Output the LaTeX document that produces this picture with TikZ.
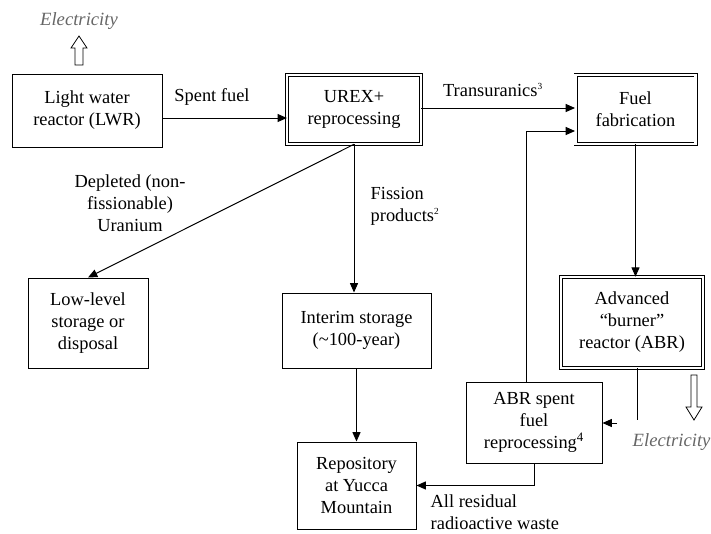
\documentclass[tikz,border=0pt]{standalone}
\usepackage{fontspec}
\setmainfont{Liberation Serif}
\usetikzlibrary{arrows.meta}

\tikzset{
  box/.style={draw, line width=0.75pt, align=center, inner sep=2pt,
    font=\fontsize{13.8}{16.5}\selectfont},
  dbox/.style={box, double, double distance=1.6pt, line width=0.7pt},
  flow/.style={line width=0.75pt, -{Triangle[length=7pt,width=6pt]}},
  lbl/.style={font=\fontsize{13.8}{16.5}\selectfont, align=center},
  elec/.style={font=\fontsize{14}{16}\selectfont\itshape, text=black!60},
  hollow/.style={draw, line width=0.6pt, fill=white}
}

\begin{document}
\begin{tikzpicture}[x=0.75pt,y=0.75pt,yscale=-1,xscale=1]
\useasboundingbox (0,0) rectangle (711,533);

%Shape: Rectangle [LWR]
\draw (87,110.5) node [box, minimum width=112.5pt, minimum height=54.75pt] (lwr) {Light water\\reactor (LWR)};
%Shape: Double Rectangle [UREX+]
\draw (354,109.5) node [dbox, minimum width=100pt, minimum height=51.5pt] (urex) {UREX+\\reprocessing};
%Shape: Double Rectangle [fuel fabrication]
\draw (635.5,109.5) node [dbox, minimum width=90pt, minimum height=51.5pt] (fab) {Fuel\\fabrication};
%Shape: Double Rectangle [ABR]
\draw (632,322.5) node [dbox, minimum width=106pt, minimum height=68pt] (abr) {Advanced\\``burner''\\reactor (ABR)};
%Shape: Rectangle [low-level]
\draw (88,323) node [box, minimum width=90pt, minimum height=67.5pt] (low) {Low-level\\storage or\\disposal};
%Shape: Rectangle [interim]
\draw (356.5,330.5) node [box, minimum width=111.75pt, minimum height=56.25pt] (interim) {Interim storage\\(\textasciitilde100-year)};
%Shape: Rectangle [repository]
\draw (356.5,485.5) node [box, minimum width=89.25pt, minimum height=65.25pt] (repo) {Repository\\at Yucca\\Mountain};
%Shape: Rectangle [ABR spent fuel]
\draw (534,422.5) node [box, minimum width=102pt, minimum height=60.75pt] (abrspent) {ABR spent\\fuel\\reprocessing\textsuperscript{4}};

%Straight Lines [spent fuel]
\draw [flow] (lwr.east |- 0,118) -- (urex.west |- 0,118) ;
%Straight Lines [transuranics]
\draw [flow] (urex.east |- 0,108) -- (fab.west |- 0,108) ;
%Straight Lines [depleted uranium]
\draw [flow] (urex.south) -- (low.north) ;
%Straight Lines [fission products]
\draw [flow] (urex.south) -- (urex.south |- interim.north) ;
%Straight Lines [interim to repository]
\draw [flow] (interim.south) -- (repo.north) ;
%Straight Lines [fabrication to ABR]
\draw [flow] (fab.south) -- (fab.south |- abr.north) ;
%Straight Lines [ABR spent fuel]
\draw [line width=0.75pt] (abr.south -| 637,0) -- (637,420) ;
\coordinate (abrtap) at (617,423) ;
\draw [flow] (abrtap) -- (abrspent.east |- abrtap) ;
%Straight Lines [recycle]
\draw [flow] ([xshift=-6pt]abrspent.north) |- (fab.west |- 0,131) ;
%Straight Lines [residual waste]
\draw [flow] (abrspent.south) |- (repo.east) ;

%Shape: Hollow arrows
\draw [hollow] (75,65) -- (75,48) -- (71,48) -- (79,36) -- (87,48) -- (83,48) -- (83,65) -- cycle ;
\draw [hollow] (691,375) -- (691,407) -- (686,407) -- (694,420) -- (702,407) -- (697,407) -- (697,375) -- cycle ;

% Text Node
\draw (79,21) node [elec] (elec1) {Electricity};
% Text Node
\draw (628,442) node [elec, anchor=west] (elec2) {Electricity};
% Text Node
\draw (212,97) node [lbl] (spentlbl) {Spent fuel};
% Text Node
\draw (493,90) node [lbl] (trulbl) {Transuranics\textsuperscript{\scriptsize 3}};
% Text Node
\draw (130,203) node [lbl] (deplbl) {Depleted (non-\\fissionable)\\Uranium};
% Text Node
\draw (366,206) node [lbl, anchor=west, align=left] (fislbl) {Fission\\products\textsuperscript{\scriptsize 2}};
% Text Node
\draw (426,512) node [lbl, anchor=west, align=left] (reslbl) {All residual\\radioactive waste};

\end{tikzpicture}
\end{document}
